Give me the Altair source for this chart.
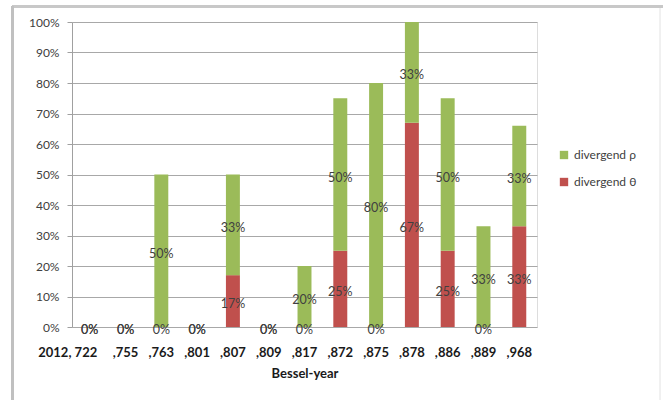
import altair as alt
import pandas as pd

# Bessel-year categories and the share of divergent cases per category
categories = ["2012, 722", ",755", ",763", ",801", ",807", ",809", ",817",
              ",872", ",875", ",878", ",886", ",889", ",968"]
theta_vals = [0, 0, 0, 0, 0.17, 0, 0, 0.25, 0, 0.67, 0.25, 0, 0.33]
rho_vals = [0, 0, 0.50, 0, 0.33, 0, 0.20, 0.50, 0.80, 0.33, 0.50, 0.33, 0.33]
series_names = ["divergend θ", "divergend ρ"]
legend_order = ["divergend ρ", "divergend θ"]
colors = {"divergend ρ": "#9BBB59", "divergend θ": "#C0504D"}
y_ticks = [i / 10 for i in range(11)]

rows = []
for cat, t, r in zip(categories, theta_vals, rho_vals):
    rows.append({"cat": cat, "series": series_names[0], "value": t, "order": 0})
    rows.append({"cat": cat, "series": series_names[1], "value": r, "order": 1})
df = pd.DataFrame(rows)

FONT = "Lato"
W, H = 465, 305
PAD_L, PAD_T = 72, 22

base = alt.Chart(df).transform_stack(
    stack="value", groupby=["cat"], as_=["y0", "y1"],
    sort=[alt.SortField("order", order="ascending")]
).transform_calculate(mid="(datum.y0 + datum.y1) / 2")

y_scale = alt.Scale(domain=[0, 1], nice=False)
y_axis = alt.Axis(
    format="%", values=y_ticks, labelOverlap=False,
    labelFont=FONT, labelFontSize=12, labelColor="#404040",
    labelPadding=8, tickSize=5, tickColor="#a0a0a0",
    domainColor="#a0a0a0", gridColor="#a8a8a8", gridWidth=1.2,
)

x_axis = alt.Axis(
    labelAngle=0, labelFont=FONT, labelFontSize=13, labelFontWeight="bold",
    labelColor="#1a1a1a", labelPadding=19, ticks=False, domain=False,
    labelOffset={"condition": {"test": "datum.value === '2012, 722'", "value": -22}, "value": 0},
    titleFont=FONT, titleFontSize=13, titleFontWeight="bold",
    titleColor="#1a1a1a", titlePadding=8,
)
x_scale = alt.Scale(paddingInner=0.61, paddingOuter=0.3)

bars = base.mark_bar().encode(
    x=alt.X("cat:N", sort=categories, title="Bessel-year", scale=x_scale, axis=x_axis),
    y=alt.Y("y0:Q", title=None, scale=y_scale, axis=y_axis),
    y2="y1:Q",
    color=alt.Color(
        "series:N",
        scale=alt.Scale(domain=legend_order, range=[colors[s] for s in legend_order]),
        legend=alt.Legend(
            title=None, orient="none", legendX=486, legendY=127,
            symbolType="square", symbolSize=70, symbolStrokeWidth=0,
            labelFont=FONT, labelFontSize=12, labelColor="#404040",
            rowPadding=15, labelOffset=4,
        ),
    ),
)

labels = base.mark_text(font=FONT, fontSize=12.5, color="#404040", dy=3).encode(
    x=alt.X("cat:N", sort=categories, title="Bessel-year", scale=x_scale, axis=x_axis),
    y=alt.Y("mid:Q", title=None, scale=y_scale, axis=y_axis),
    text=alt.Text("value:Q", format=".0%"),
)

# Light frame around the figure
frame_top = alt.Chart(df).mark_rule(color="#c8c8c8", strokeWidth=2).encode(
    x=alt.value(-60), x2=alt.value(591), y=alt.value(-15.5)
)
frame_left = alt.Chart(df).mark_rule(color="#c0c0c0", strokeWidth=2).encode(
    x=alt.value(-59.5), y=alt.value(-16), y2=alt.value(380)
)
frame_right = alt.Chart(df).mark_rule(color="#f0f0f0", strokeWidth=1).encode(
    x=alt.value(588), y=alt.value(-14), y2=alt.value(380)
)

chart = alt.layer(bars, labels, frame_top, frame_left, frame_right).properties(
    width=W, height=H,
    autosize=alt.AutoSizeParams(type="none"),
    padding={"left": PAD_L, "top": PAD_T, "right": 665 - PAD_L - W, "bottom": 400 - PAD_T - H},
).configure_view(stroke=None).configure(background="white")

chart.save("out.html", embed_options={"renderer": "svg", "actions": False})
